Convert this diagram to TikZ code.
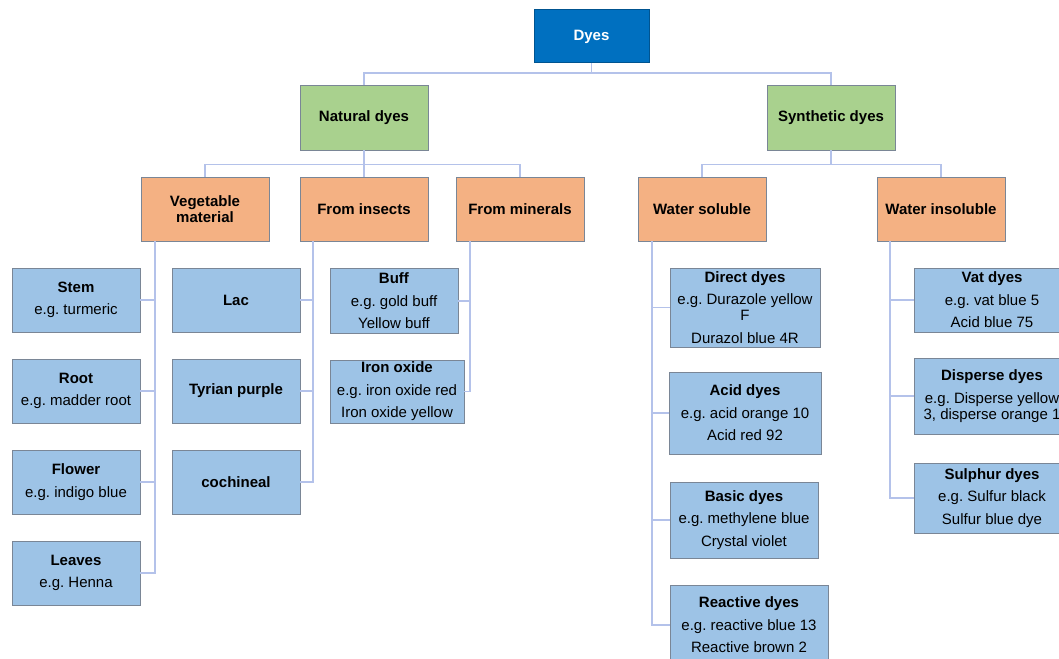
\documentclass[tikz,border=0pt]{standalone}
\usepackage{fontspec}
\setmainfont{Liberation Sans}
\usetikzlibrary{positioning}

\definecolor{rootblue}{HTML}{0070C0}
\definecolor{catgreen}{HTML}{A9D18E}
\definecolor{suborange}{HTML}{F4B183}
\definecolor{leafblue}{HTML}{9DC3E6}
\definecolor{linkblue}{HTML}{B4C2EA}
\definecolor{edgegray}{HTML}{7A8696}

\newcommand{\boxfont}{\fontsize{15}{16}\selectfont}
\frenchspacing

\tikzset{
  box/.style={draw=edgegray, line width=0.8pt, align=center, inner sep=2pt, font=\boxfont},
  rootbox/.style={box, fill=rootblue, draw=rootblue!75!black, text=white,
    minimum width=115pt, minimum height=53pt, font=\boxfont\bfseries},
  catbox/.style={box, fill=catgreen, minimum width=128pt, minimum height=65pt, font=\boxfont\bfseries},
  subbox/.style={box, fill=suborange, minimum width=128pt, minimum height=64pt, font=\boxfont\bfseries},
  leafbox/.style={box, fill=leafblue, minimum width=128pt, minimum height=64pt},
  link/.style={draw=linkblue, line width=1.8pt},
}

\begin{document}
\begin{tikzpicture}[x=1pt, y=-1pt]
\useasboundingbox (0,0) rectangle (1059,658);

\path (591.5,36) node[rootbox, text depth=2pt] (dyes) {Dyes};
\path (364,117.5) node[catbox] (natural) {Natural dyes};
\path (831,117.5) node[catbox] (synthetic) {Synthetic dyes};

\path (205,209) node[subbox] (veg) {Vegetable\\material};
\path (364,209) node[subbox] (insects) {From insects};
\path (520,209) node[subbox] (minerals) {From minerals};
\path (702,209) node[subbox] (wsol) {Water soluble};
\path (941,209) node[subbox] (winsol) {Water insoluble};

\path (76,300) node[leafbox] (stem) {\textbf{Stem}\\[6.5pt] e.g. turmeric};
\path (76,391) node[leafbox] (root) {\textbf{Root}\\[6.5pt] e.g. madder root};
\path (76,482) node[leafbox] (flower) {\textbf{Flower}\\[6.5pt] e.g. indigo blue};
\path (76,573) node[leafbox] (leaves) {\textbf{Leaves}\\[6.5pt] e.g. Henna};

\path (236,300) node[leafbox, font=\boxfont\bfseries] (lac) {Lac};
\path (236,391) node[leafbox, font=\boxfont\bfseries] (tyrian) {Tyrian purple};
\path (236,482) node[leafbox, font=\boxfont\bfseries] (cochineal) {cochineal};

\path (394,301) node[leafbox, minimum height=65pt] (buff)
  {\textbf{Buff}\\[6.5pt] e.g. gold buff\\[6.5pt] Yellow buff};
\path (397,391.5) node[leafbox, minimum width=134pt, minimum height=63pt] (ironox)
  {\textbf{Iron oxide}\\[6.5pt] e.g. iron oxide red\\[6.5pt] Iron oxide yellow};

\path (745,307.5) node[leafbox, minimum width=150pt, minimum height=79pt] (direct)
  {\textbf{Direct dyes}\\[6.5pt] e.g. Durazole yellow\\ F\\[6.5pt] Durazol blue 4R};
\path (745,413) node[leafbox, minimum width=152pt, minimum height=82pt] (acid)
  {\textbf{Acid dyes}\\[6.5pt] e.g. acid orange 10\\[6.5pt] Acid red 92};
\path (744,520) node[leafbox, minimum width=148pt, minimum height=76pt] (basic)
  {\textbf{Basic dyes}\\[6.5pt] e.g. methylene blue\\[6.5pt] Crystal violet};
\path (749,625) node[leafbox, minimum width=158pt, minimum height=80pt] (reactive)
  {\textbf{Reactive dyes}\\[6.5pt] e.g. reactive blue 13\\[6.5pt] Reactive brown 2};

\path (992,300) node[leafbox, minimum width=156pt, minimum height=64pt] (vat)
  {\textbf{Vat dyes}\\[6.5pt] e.g. vat blue 5\\[6.5pt] Acid blue 75};
\path (992,396) node[leafbox, minimum width=156pt, minimum height=76pt] (disperse)
  {\textbf{Disperse dyes}\\[6.5pt] e.g. Disperse yellow\\ 3, disperse orange 1};
\path (992,498) node[leafbox, minimum width=156pt, minimum height=70pt] (sulphur)
  {\textbf{Sulphur dyes}\\[6.5pt] e.g. Sulfur black\\[6.5pt] Sulfur blue dye};

\draw[link] (dyes.south) -- ([yshift=-10pt]dyes.south);
\draw[link] (natural.north) |- ([yshift=-10pt]dyes.south) -| (synthetic.north);

\draw[link] (natural.south) -- (insects.north);
\draw[link] (veg.north) |- ([yshift=-14pt]natural.south) -| (minerals.north);
\draw[link] (synthetic.south) -- ([yshift=-14pt]synthetic.south);
\draw[link] (wsol.north) |- ([yshift=-14pt]synthetic.south) -| (winsol.north);

\foreach \leaf in {stem, root, flower, leaves}
  \draw[link] ([xshift=14pt]veg.south west) |- (\leaf.east);
\foreach \leaf in {lac, tyrian, cochineal}
  \draw[link] ([xshift=13pt]insects.south west) |- (\leaf.east);
\foreach \leaf in {buff, ironox}
  \draw[link] ([xshift=14pt]minerals.south west) |- (\leaf.east);
\foreach \leaf in {direct, acid, basic, reactive}
  \draw[link] ([xshift=14pt]wsol.south west) |- (\leaf.west);
\foreach \leaf in {vat, disperse, sulphur}
  \draw[link] ([xshift=13pt]winsol.south west) |- (\leaf.west);
\end{tikzpicture}
\end{document}
